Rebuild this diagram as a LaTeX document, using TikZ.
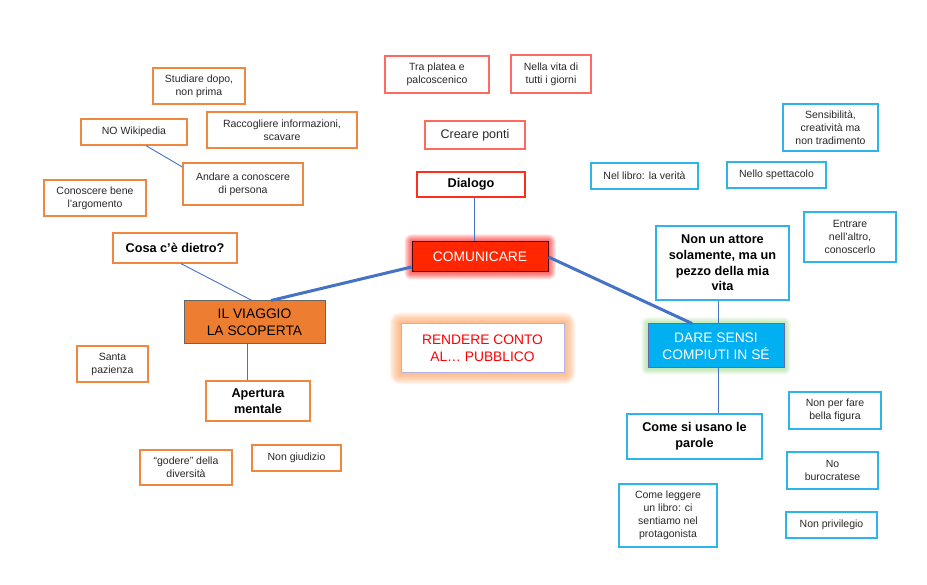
\documentclass[tikz,border=0pt]{standalone}
\usepackage{fontspec}
\setmainfont{Liberation Sans}
\usetikzlibrary{calc}
\pgfdeclarelayer{background}
\pgfsetlayers{background,main}
\definecolor{obord}{RGB}{240,135,65}
\definecolor{rbord}{RGB}{255,105,95}
\definecolor{dbord}{RGB}{255,45,25}
\definecolor{bbord}{RGB}{45,180,235}
\definecolor{conn}{RGB}{68,114,196}
\definecolor{comufill}{RGB}{255,38,0}
\definecolor{viafill}{RGB}{237,125,49}
\definecolor{darefill}{RGB}{0,176,240}
\definecolor{glowg}{RGB}{150,220,130}
\definecolor{glowo}{RGB}{255,160,90}
\definecolor{txt}{RGB}{40,40,40}
\newcommand\smalltxt{\fontsize{10.5}{13}\selectfont}
\newcommand\boldtxt{\fontsize{12.7}{15.7}\selectfont\bfseries}
\newcommand\maintxt{\fontsize{13.8}{17}\selectfont}
\tikzset{
  bx/.style={draw, line width=1.3pt, fill=white, text=txt, inner sep=0pt, align=center, font=\smalltxt},
  obox/.style={bx, draw=obord},
  rbox/.style={bx, draw=rbord},
  bbox/.style={bx, draw=bbord},
  bold/.style={font=\boldtxt, text=black},
  sz/.style 2 args={minimum width=#1, minimum height=#2},
  thin conn/.style={draw=conn, line width=0.9pt},
  thick conn/.style={draw=conn, line width=3pt},
}
\newcommand\glowbox[4]{% node, colour, spread, opacity
  \begin{pgfonlayer}{background}
  \foreach \i in {1,...,#3} {
    \fill[#2, opacity=#4, rounded corners=\i pt]
      ($(#1.south west)+(-\i,\i)$) rectangle ($(#1.north east)+(\i,-\i)$);
  }
  \end{pgfonlayer}
}
\begin{document}
\begin{tikzpicture}[x=1pt,y=-1pt]
\useasboundingbox (0,0) rectangle (927,585);
\begin{pgfonlayer}{background}
\fill[white] (0,0) rectangle (927,585);
\end{pgfonlayer}

% left cluster
\node[obox, sz={92}{36}] (studiare) at (199,86) {Studiare dopo,\\non prima};
\node[obox, sz={106}{26}] (wiki) at (134,132) {NO Wikipedia};
\node[obox, sz={150}{36}] (racc) at (282,130) {Raccogliere informazioni,\\scavare};
\node[obox, sz={120}{42}] (andare) at (243,184) {Andare a conoscere\\di persona};
\node[obox, sz={102}{36}] (conoscere) at (95,198) {Conoscere bene\\l’argomento};
\node[obox, bold, sz={124}{30}] (cosa) at (175,248) {Cosa c’è dietro?};
\node[draw=black!60, line width=1pt, fill=viafill, inner sep=0pt, align=center, font=\maintxt, sz={141}{43}] (viaggio) at (254.5,322.5) {IL VIAGGIO\\LA SCOPERTA};
\node[obox, sz={71}{36}] (santa) at (112.5,364) {Santa\\pazienza};
\node[obox, bold, sz={104}{40}] (apertura) at (258,401) {Apertura\\mentale};
\node[obox, sz={92}{35}] (godere) at (186,467.5) {“godere” della\\diversità};
\node[obox, sz={89}{26}] (giudizio) at (296.5,458) {Non giudizio};

% top cluster
\node[rbox, sz={104}{37}] (platea) at (437,74.5) {Tra platea e\\palcoscenico};
\node[rbox, sz={80}{38}] (vita) at (551,74) {Nella vita di\\tutti i giorni};
\node[rbox, font=\fontsize{12.5}{15}\selectfont, sz={100}{28}] (ponti) at (475,135) {Creare ponti};
\node[bx, draw=dbord, bold, sz={108}{25}] (dialogo) at (471,184.5) {Dialogo};
\node[draw=black!70!red, line width=1pt, fill=comufill, text=white, inner sep=0pt, font=\maintxt, sz={136}{30}] (comu) at (480,257) {COMUNICARE};
\glowbox{comu}{red}{7}{0.11}
\node[draw=black!35!blue!30, line width=1pt, fill=white, text=red, inner sep=0pt, align=center, font=\maintxt, sz={163}{49}] (rendere) at (482.5,348.5) {RENDERE CONTO\\AL… PUBBLICO};
\glowbox{rendere}{glowo}{11}{0.09}

% right cluster
\node[bbox, sz={95}{47}] (sens) at (830.5,127.5) {Sensibilità,\\creatività ma\\non tradimento};
\node[bbox, sz={107}{26}] (libro) at (644.5,176) {Nel libro: la verità};
\node[bbox, sz={99}{26}] (spett) at (776.5,175) {Nello spettacolo};
\node[bbox, sz={92}{50}] (entrare) at (850,237) {Entrare\\nell’altro,\\conoscerlo};
\node[bbox, bold, sz={133}{74}] (attore) at (722.5,263) {Non un attore\\solamente, ma un\\pezzo della mia\\vita};
\node[draw=black!50!blue!60, line width=1pt, fill=darefill, text=white, inner sep=0pt, align=center, font=\maintxt, sz={136}{44}] (dare) at (716,346) {DARE SENSI\\COMPIUTI IN SÉ};
\glowbox{dare}{glowg}{6}{0.12}
\node[bbox, bold, sz={135}{45}] (come) at (694.5,436.5) {Come si usano le\\parole};
\node[bbox, sz={92}{37}] (bella) at (835,410.5) {Non per fare\\bella figura};
\node[bbox, sz={91}{37}] (buro) at (832.5,470.5) {No\\burocratese};
\node[bbox, sz={91}{26}] (priv) at (831.5,525) {Non privilegio};
\node[bbox, sz={98}{63}] (leggere) at (668,515.5) {Come leggere\\un libro: ci\\sentiamo nel\\protagonista};

% connectors
\draw[thin conn] ([xshift=12pt]wiki.south) -- ([yshift=17pt]andare.west);
\draw[thin conn] ([xshift=3pt]dialogo.south) -- ([xshift=-6pt]comu.north);
\draw[thin conn] ([xshift=6pt]cosa.south) -- ([xshift=-2.5pt]viaggio.north);
\draw[thin conn] ([xshift=-7.5pt]viaggio.south) -- ([xshift=-11pt]apertura.north);
\draw[thin conn] ([xshift=-4.5pt]attore.south) -- ([xshift=2pt]dare.north);
\draw[thin conn] ([xshift=2pt]dare.south) -- ([xshift=23.5pt]come.north);
\draw[thick conn] ([yshift=-10pt]comu.west) -- ([xshift=16.5pt]viaggio.north);
\draw[thick conn] (comu.east) -- ([xshift=-24pt]dare.north);
\end{tikzpicture}
\end{document}
